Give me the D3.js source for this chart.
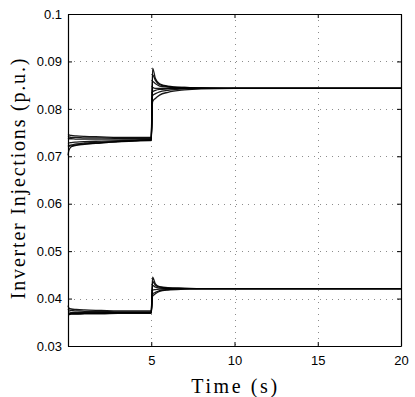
<!DOCTYPE html>
<html>
<head>
<meta charset="utf-8">
<script src="https://cdnjs.cloudflare.com/ajax/libs/d3/7.8.5/d3.min.js"></script>
<style>
  body { margin: 0; background: #fff; }
  svg { display: block; }
</style>
</head>
<body>
<div id="chart"></div>
<script>
// time samples shared by every trace (s)
const times = [0, 0.05, 0.2, 0.5, 1, 2, 3, 4, 4.95, 5.0, 5.08, 5.25, 5.5, 6, 7, 8, 10, 20];

// upper group of inverter injections (p.u.)
const upperSeries = [
  [0.0746, 0.0745, 0.0744, 0.0743, 0.0742, 0.0741, 0.0740, 0.0740, 0.0740, 0.0740, 0.0886, 0.0864, 0.0853, 0.0848, 0.0845, 0.0844, 0.0843, 0.0843],
  [0.0742, 0.0741, 0.0740, 0.0740, 0.0739, 0.0739, 0.0738, 0.0738, 0.0738, 0.0738, 0.0872, 0.0860, 0.0851, 0.0847, 0.0845, 0.0844, 0.0843, 0.0843],
  [0.0738, 0.0737, 0.0737, 0.0736, 0.0736, 0.0736, 0.0736, 0.0736, 0.0736, 0.0736, 0.0858, 0.0853, 0.0848, 0.0846, 0.0844, 0.0843, 0.0843, 0.0843],
  [0.0727, 0.0728, 0.0729, 0.0730, 0.0731, 0.0732, 0.0733, 0.0734, 0.0735, 0.0735, 0.0845, 0.0843, 0.0843, 0.0843, 0.0843, 0.0843, 0.0843, 0.0843],
  [0.0722, 0.0723, 0.0724, 0.0726, 0.0728, 0.0730, 0.0731, 0.0733, 0.0734, 0.0734, 0.0828, 0.0832, 0.0836, 0.0839, 0.0842, 0.0843, 0.0843, 0.0843],
  [0.0720, 0.0721, 0.0722, 0.0724, 0.0726, 0.0729, 0.0731, 0.0732, 0.0733, 0.0733, 0.0815, 0.0822, 0.0829, 0.0835, 0.0840, 0.0842, 0.0843, 0.0843],
  [0.0702, 0.0712, 0.0720, 0.0723, 0.0725, 0.0728, 0.0731, 0.0733, 0.0734, 0.0734, 0.0836, 0.0839, 0.0841, 0.0842, 0.0843, 0.0843, 0.0843, 0.0843]
];

// lower group
const lowerSeries = [
  [0.0385, 0.0380, 0.0378, 0.0377, 0.0376, 0.0375, 0.0374, 0.0374, 0.0374, 0.0374, 0.0445, 0.0431, 0.0425, 0.0423, 0.0422, 0.0421, 0.0421, 0.0421],
  [0.0378, 0.0376, 0.0375, 0.0374, 0.0373, 0.0373, 0.0372, 0.0372, 0.0372, 0.0372, 0.0436, 0.0428, 0.0424, 0.0422, 0.0421, 0.0421, 0.0421, 0.0421],
  [0.0372, 0.0372, 0.0371, 0.0371, 0.0371, 0.0371, 0.0371, 0.0371, 0.0371, 0.0371, 0.0428, 0.0424, 0.0422, 0.0421, 0.0421, 0.0421, 0.0421, 0.0421],
  [0.0368, 0.0368, 0.0369, 0.0369, 0.0369, 0.0370, 0.0370, 0.0370, 0.0370, 0.0370, 0.0418, 0.0419, 0.0420, 0.0421, 0.0421, 0.0421, 0.0421, 0.0421],
  [0.0366, 0.0366, 0.0367, 0.0367, 0.0368, 0.0368, 0.0369, 0.0369, 0.0369, 0.0369, 0.0410, 0.0413, 0.0417, 0.0419, 0.0421, 0.0421, 0.0421, 0.0421],
  [0.0367, 0.0367, 0.0368, 0.0368, 0.0369, 0.0369, 0.0370, 0.0370, 0.0370, 0.0370, 0.0405, 0.0410, 0.0415, 0.0418, 0.0420, 0.0421, 0.0421, 0.0421]
];

const xTicks = [5, 10, 15, 20];
const yTicks = [0.03, 0.04, 0.05, 0.06, 0.07, 0.08, 0.09, 0.1];
const yTickLabels = ['0.03', '0.04', '0.05', '0.06', '0.07', '0.08', '0.09', '0.1'];

const width = 415, height = 397;
const margin = { top: 14, right: 14, bottom: 51, left: 68 };

const svg = d3.select('#chart').append('svg')
  .attr('width', width)
  .attr('height', height);

const x = d3.scaleLinear().domain([0, 20]).range([margin.left, width - margin.right]);
const y = d3.scaleLinear().domain([0.03, 0.1]).range([height - margin.bottom, margin.top]);

// dotted grid
const grid = svg.append('g').attr('stroke', '#8c8c8c').attr('stroke-width', 1)
  .attr('stroke-dasharray', '1,5');
grid.selectAll('.gx').data(xTicks.slice(0, -1)).enter().append('line')
  .attr('x1', d => Math.round(x(d)) + 0.5).attr('x2', d => Math.round(x(d)) + 0.5)
  .attr('y1', y(0.1)).attr('y2', y(0.03));
grid.selectAll('.gy').data(yTicks.slice(1, -1)).enter().append('line')
  .attr('y1', d => Math.round(y(d)) + 0.5).attr('y2', d => Math.round(y(d)) + 0.5)
  .attr('x1', x(0)).attr('x2', x(20));

// traces
const line = d3.line()
  .x((d, i) => x(times[i]))
  .y(d => y(d))
  .curve(d3.curveMonotoneX);

const traces = svg.append('g').attr('fill', 'none').attr('stroke', '#000')
  .attr('stroke-width', 1.3).attr('stroke-opacity', 0.9);
traces.selectAll('.up').data(upperSeries).enter().append('path').attr('d', line);
traces.selectAll('.low').data(lowerSeries).enter().append('path').attr('d', line);

// axes (inward ticks, box)
const axisBottom = d3.axisBottom(x).tickValues(xTicks).tickSizeInner(-4).tickSizeOuter(0).tickPadding(10);
const axisLeft = d3.axisLeft(y).tickValues(yTicks).tickSizeInner(-4).tickSizeOuter(0).tickPadding(6)
  .tickFormat((d, i) => yTickLabels[i]);

svg.append('g').attr('transform', `translate(0,${y(0.03)})`).call(axisBottom);
svg.append('g').attr('transform', `translate(${x(0)},0)`).call(axisLeft);
svg.append('g').attr('transform', `translate(0,${y(0.1)})`)
  .call(d3.axisTop(x).tickValues(xTicks).tickSizeInner(-4).tickSizeOuter(0).tickFormat(''));
svg.append('g').attr('transform', `translate(${x(20)},0)`)
  .call(d3.axisRight(y).tickValues(yTicks).tickSizeInner(-4).tickSizeOuter(0).tickFormat(''));

svg.selectAll('.domain').attr('stroke', '#000').attr('stroke-width', 1.2);
svg.selectAll('.tick line').attr('stroke', '#000');
svg.selectAll('.tick text')
  .attr('font-family', 'Liberation Sans, Arial, sans-serif')
  .attr('font-size', 13).attr('fill', '#000');

// axis titles
svg.append('text')
  .attr('x', x(10) + 1).attr('y', 393)
  .attr('text-anchor', 'middle')
  .attr('font-family', 'Liberation Serif, serif')
  .attr('font-size', 20).attr('letter-spacing', 2.6)
  .text('Time (s)');

svg.append('text')
  .attr('transform', `translate(25,${(y(0.03) + y(0.1)) / 2 - 2}) rotate(-90)`)
  .attr('text-anchor', 'middle')
  .attr('font-family', 'Liberation Serif, serif')
  .attr('font-size', 20).attr('letter-spacing', 1.8)
  .text('Inverter Injections (p.u.)');
</script>
</body>
</html>
